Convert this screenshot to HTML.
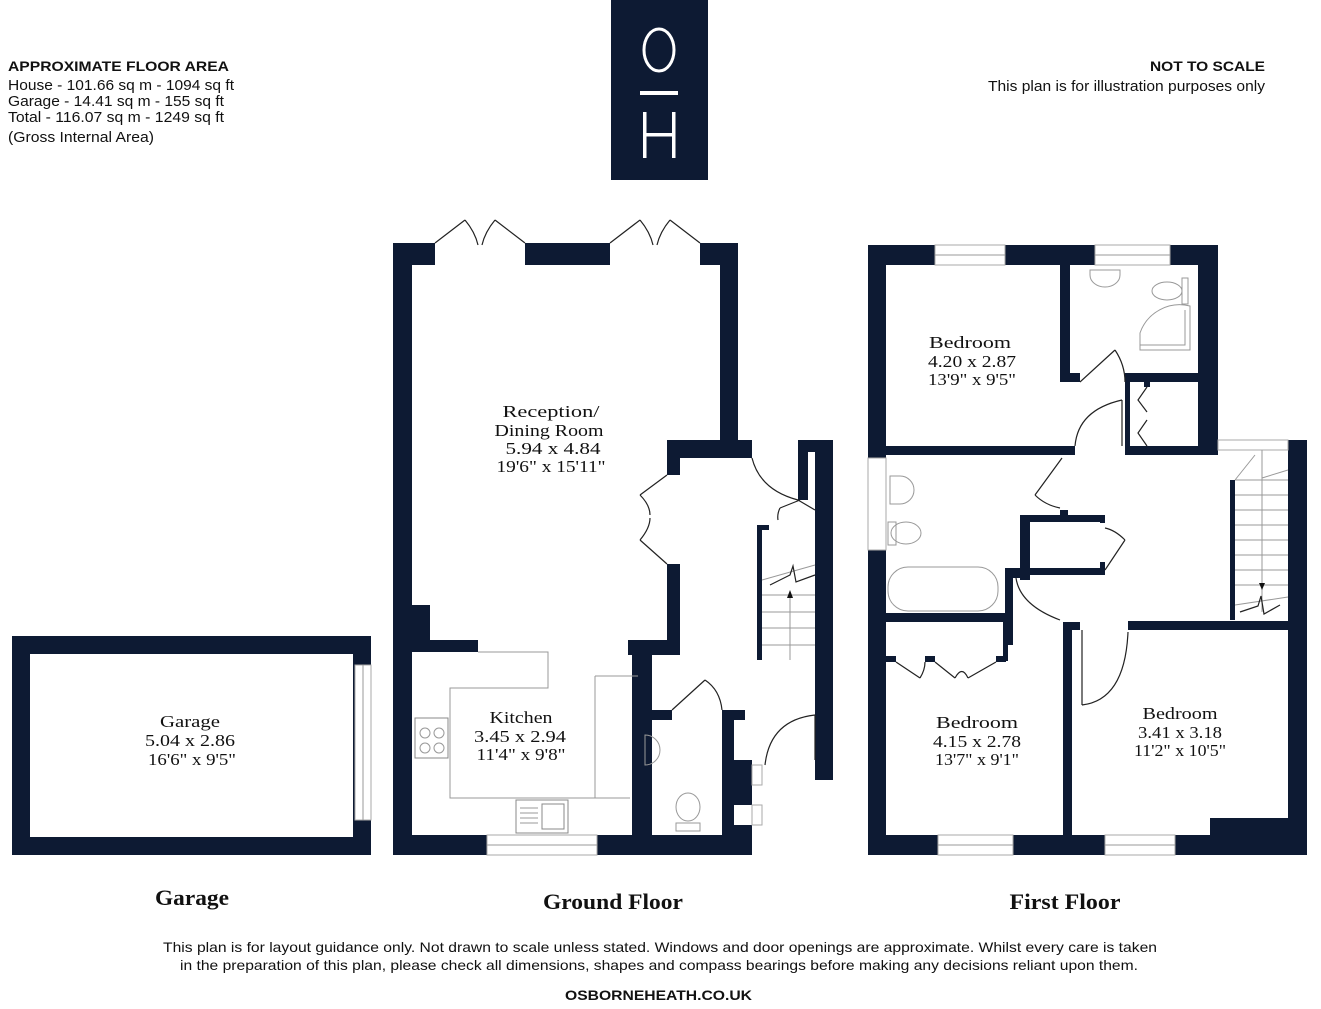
<!DOCTYPE html>
<html><head><meta charset="utf-8"><style>
html,body{margin:0;padding:0;background:#fff;}
svg{display:block;}
.s{font-family:"Liberation Sans",sans-serif;fill:#111;}
.r{font-family:"Liberation Serif",serif;fill:#111;text-anchor:middle;font-size:17px;}
.t{font-family:"Liberation Serif",serif;fill:#111;text-anchor:middle;font-size:22px;font-weight:bold;}
.w{fill:#0d1a33;}
.ln{fill:none;stroke:#222;stroke-width:1.2;}
.th{fill:none;stroke:#999;stroke-width:1;}
.win{fill:#fff;stroke:#aaa;stroke-width:1;}
</style></head><body>
<svg width="1321" height="1009" viewBox="0 0 1321 1009" xmlns="http://www.w3.org/2000/svg">
<!-- header text -->
<text class="s" x="8" y="71" font-size="14" font-weight="bold" textLength="221" lengthAdjust="spacingAndGlyphs">APPROXIMATE FLOOR AREA</text>
<text class="s" x="8" y="90" font-size="15" textLength="226" lengthAdjust="spacingAndGlyphs">House - 101.66 sq m - 1094 sq ft</text>
<text class="s" x="8" y="106" font-size="15" textLength="216" lengthAdjust="spacingAndGlyphs">Garage - 14.41 sq m - 155 sq ft</text>
<text class="s" x="8" y="122" font-size="15" textLength="216" lengthAdjust="spacingAndGlyphs">Total - 116.07 sq m - 1249 sq ft</text>
<text class="s" x="8" y="142" font-size="15" textLength="146" lengthAdjust="spacingAndGlyphs">(Gross Internal Area)</text>
<text class="s" x="1150" y="71" font-size="14" font-weight="bold" textLength="115" lengthAdjust="spacingAndGlyphs">NOT TO SCALE</text>
<text class="s" x="988" y="91" font-size="15" textLength="277" lengthAdjust="spacingAndGlyphs">This plan is for illustration purposes only</text>

<!-- logo -->
<rect class="w" x="611" y="0" width="97" height="180"/>
<ellipse cx="659" cy="50" rx="15" ry="21" fill="none" stroke="#fff" stroke-width="3"/>
<rect x="640" y="91" width="38" height="4" fill="#fff"/>
<rect x="643" y="112" width="3.5" height="46" fill="#fff"/>
<rect x="672" y="112" width="3.5" height="46" fill="#fff"/>
<rect x="643" y="133" width="32" height="3.5" fill="#fff"/>

<!-- GARAGE -->
<path class="w" fill-rule="evenodd" d="M12 636H371V855H12Z M30 654V837H353V654Z"/>
<rect class="win" x="355" y="665" width="16" height="155"/>
<line class="th" x1="363" y1="665" x2="363" y2="820"/>
<text class="r" x="190" y="727" textLength="60" lengthAdjust="spacingAndGlyphs">Garage</text>
<text class="r" x="190" y="746" textLength="90" lengthAdjust="spacingAndGlyphs">5.04 x 2.86</text>
<text class="r" x="192" y="765" textLength="88" lengthAdjust="spacingAndGlyphs">16'6" x 9'5"</text>

<!-- GROUND FLOOR -->
<g class="w">
<rect x="393" y="243" width="19" height="612"/>
<rect x="393" y="243" width="42" height="22"/>
<rect x="525" y="243" width="85" height="22"/>
<rect x="700" y="243" width="38" height="22"/>
<rect x="720" y="243" width="18" height="212"/>
<rect x="667" y="440" width="85" height="18"/>
<rect x="667" y="440" width="13" height="35"/>
<rect x="667" y="564" width="13" height="90"/>
<rect x="628" y="640" width="52" height="15"/>
<rect x="632" y="640" width="20" height="215"/>
<rect x="412" y="605" width="18" height="47"/>
<rect x="412" y="640" width="66" height="12"/>
<rect x="393" y="835" width="94" height="20"/>
<rect x="597" y="835" width="155" height="20"/>
<rect x="632" y="710" width="40" height="10"/>
<rect x="722" y="710" width="23" height="10"/>
<rect x="722" y="710" width="12" height="145"/>
<rect x="722" y="760" width="30" height="45"/>
<rect x="732" y="825" width="20" height="30"/>
<rect x="815" y="440" width="18" height="340"/>
<rect x="798" y="440" width="35" height="12"/>
<rect x="798" y="440" width="10" height="60"/>
<rect x="757" y="525" width="5" height="135"/>
<rect x="757" y="525" width="12" height="5"/>
</g>
<rect class="win" x="487" y="835" width="110" height="20"/>
<line class="th" x1="487" y1="845" x2="597" y2="845"/>
<rect class="win" x="752" y="765" width="10" height="20"/>
<rect class="win" x="752" y="805" width="10" height="20"/>
<!-- french doors -->
<path class="ln" d="M435 243L465 220 M465 220Q475 232 478 245 M525 243L495 220 M495 220Q485 232 482 245"/>
<path class="ln" d="M610 243L640 220 M640 220Q650 232 653 245 M700 243L670 220 M670 220Q660 232 657 245"/>
<path class="ln" d="M667 475L640 495 M640 495Q650 505 650 515 M667 564L640 540 M640 540Q650 528 650 518"/>
<path class="ln" d="M752 458Q760 490 798 500 M800 500L780 508 M780 508Q777 514 778 520 M798 500L815 510"/>
<path class="ln" d="M672 710L705 680 M705 680Q720 690 722 710"/>
<path class="ln" d="M815 715Q770 720 765 765 M815 715V760"/>
<!-- stairs -->
<g class="th"><line x1="762" y1="595" x2="815" y2="595"/><line x1="762" y1="612" x2="815" y2="612"/><line x1="762" y1="628" x2="815" y2="628"/><line x1="762" y1="645" x2="815" y2="645"/><line x1="762" y1="580" x2="815" y2="565"/><line x1="790" y1="595" x2="790" y2="660"/></g>
<path class="ln" d="M770 585L790 575L793 566L796 582L815 575"/>
<path d="M790 590l-3 8h6z" fill="#111"/>
<!-- kitchen counters -->
<path class="th" d="M478 652H548V688H450V798H630 M595 676H638 M595 676V798"/>
<rect x="415" y="718" width="33" height="40" fill="#fff" stroke="#888"/>
<circle cx="425" cy="733" r="5" class="th"/><circle cx="439" cy="733" r="5" class="th"/><circle cx="425" cy="748" r="5" class="th"/><circle cx="439" cy="748" r="5" class="th"/>
<rect x="516" y="800" width="52" height="33" fill="#fff" stroke="#888"/>
<rect x="542" y="804" width="22" height="25" fill="none" stroke="#888"/>
<g class="th"><line x1="520" y1="808" x2="538" y2="808"/><line x1="520" y1="813" x2="538" y2="813"/><line x1="520" y1="818" x2="538" y2="818"/><line x1="520" y1="823" x2="538" y2="823"/></g>
<path class="th" d="M645 735a15 15 0 0 1 0 30z M645 735v30"/>
<ellipse cx="688" cy="807" rx="12" ry="14" class="th"/>
<rect x="676" y="823" width="24" height="8" class="th"/>
<text class="r" x="551" y="417" textLength="97" lengthAdjust="spacingAndGlyphs">Reception/</text>
<text class="r" x="549" y="436" textLength="109" lengthAdjust="spacingAndGlyphs">Dining Room</text>
<text class="r" x="553" y="454" textLength="95" lengthAdjust="spacingAndGlyphs">5.94 x 4.84</text>
<text class="r" x="551" y="472" textLength="109" lengthAdjust="spacingAndGlyphs">19'6" x 15'11"</text>
<text class="r" x="521" y="723" textLength="63" lengthAdjust="spacingAndGlyphs">Kitchen</text>
<text class="r" x="520" y="742" textLength="92" lengthAdjust="spacingAndGlyphs">3.45 x 2.94</text>
<text class="r" x="521" y="760" textLength="89" lengthAdjust="spacingAndGlyphs">11'4" x 9'8"</text>

<!-- FIRST FLOOR -->
<g class="w">
<rect x="868" y="245" width="18" height="610"/>
<rect x="868" y="245" width="67" height="20"/>
<rect x="1005" y="245" width="90" height="20"/>
<rect x="1170" y="245" width="48" height="20"/>
<rect x="1198" y="245" width="20" height="210"/>
<rect x="1288" y="440" width="19" height="415"/>
<rect x="868" y="835" width="70" height="20"/>
<rect x="1013" y="835" width="92" height="20"/>
<rect x="1175" y="835" width="132" height="20"/>
<rect x="1210" y="818" width="97" height="20"/>
<rect x="886" y="446" width="189" height="9"/>
<rect x="1125" y="446" width="93" height="9"/>
<rect x="1060" y="265" width="10" height="117"/>
<rect x="1060" y="373" width="20" height="9"/>
<rect x="1125" y="373" width="73" height="9"/>
<rect x="1125" y="373" width="5" height="82"/>
<rect x="1144" y="380" width="6" height="7"/>
<rect x="1144" y="446" width="6" height="7"/>
<rect x="1020" y="515" width="10" height="65"/>
<rect x="1020" y="515" width="85" height="7"/>
<rect x="1020" y="568" width="85" height="7"/>
<rect x="1060" y="510" width="8" height="8"/>
<rect x="1100" y="515" width="5" height="8"/>
<rect x="1100" y="562" width="5" height="8"/>
<rect x="1005" y="568" width="15" height="10"/>
<rect x="1005" y="568" width="8" height="77"/>
<rect x="886" y="613" width="119" height="9"/>
<rect x="1003" y="615" width="5" height="46"/>
<rect x="886" y="656" width="10" height="6"/>
<rect x="925" y="656" width="10" height="6"/>
<rect x="996" y="656" width="10" height="6"/>
<rect x="1063" y="622" width="9" height="233"/>
<rect x="1063" y="622" width="17" height="8"/>
<rect x="1128" y="621" width="160" height="9"/>
<rect x="1230" y="480" width="5" height="140"/>
</g>
<rect class="win" x="935" y="245" width="70" height="20"/><line class="th" x1="935" y1="255" x2="1005" y2="255"/>
<rect class="win" x="1095" y="245" width="75" height="20"/><line class="th" x1="1095" y1="255" x2="1170" y2="255"/>
<rect class="win" x="1218" y="440" width="70" height="10"/>
<rect class="win" x="868" y="458" width="18" height="92"/>
<rect class="win" x="938" y="835" width="75" height="20"/><line class="th" x1="938" y1="845" x2="1013" y2="845"/>
<rect class="win" x="1105" y="835" width="70" height="20"/><line class="th" x1="1105" y1="845" x2="1175" y2="845"/>
<!-- doors -->
<path class="ln" d="M1080 382L1115 350 M1115 350Q1125 365 1125 382"/>
<path class="ln" d="M1075 446Q1078 410 1122 400 M1122 400V446"/>
<path class="ln" d="M1147 387L1138 400L1147 412 M1147 446L1138 433L1147 420"/>
<path class="ln" d="M1062 458L1035 495 M1035 495Q1045 505 1060 508"/>
<path class="ln" d="M1105 570L1125 540 M1125 540Q1115 530 1105 528"/>
<path class="ln" d="M1016 578Q1020 605 1060 620 M1082 630V705 M1082 705Q1125 700 1128 632"/>
<path class="ln" d="M896 662L920 678 M920 678Q925 670 925 662 M935 662L955 678 M955 678Q962 665 968 678 M968 678L996 662"/>
<!-- stairs FF -->
<g class="th"><line x1="1235" y1="480" x2="1288" y2="480"/><line x1="1235" y1="495" x2="1288" y2="495"/><line x1="1235" y1="510" x2="1288" y2="510"/><line x1="1235" y1="525" x2="1288" y2="525"/><line x1="1235" y1="540" x2="1288" y2="540"/><line x1="1235" y1="555" x2="1288" y2="555"/><line x1="1235" y1="570" x2="1288" y2="570"/><line x1="1235" y1="585" x2="1288" y2="585"/><line x1="1235" y1="605" x2="1288" y2="597"/><line x1="1262" y1="450" x2="1262" y2="612"/><line x1="1235" y1="480" x2="1255" y2="455"/><line x1="1262" y1="478" x2="1288" y2="470"/></g>
<path class="ln" d="M1240 612L1258 606L1261 596L1264 614L1280 605"/>
<path d="M1262 590l-3 -7h6z" fill="#111"/>
<!-- sanitary -->
<path class="th" d="M1090 270h30v5a15 12 0 0 1 -30 0z"/>
<ellipse cx="1167" cy="291" rx="15" ry="9" class="th"/><rect x="1182" y="278" width="6" height="26" class="th"/>
<path class="th" d="M1140 350V333A42 42 0 0 1 1190 306V350Z M1140 345H1185V310"/>
<path class="th" d="M890 476h10a14 14 0 0 1 0 28h-10z"/>
<ellipse cx="906" cy="533" rx="15" ry="11" class="th"/><rect x="888" y="522" width="8" height="23" class="th"/>
<rect x="888" y="567" width="110" height="44" rx="20" class="th"/>
<text class="r" x="970" y="348" textLength="82" lengthAdjust="spacingAndGlyphs">Bedroom</text>
<text class="r" x="972" y="367" textLength="88" lengthAdjust="spacingAndGlyphs">4.20 x 2.87</text>
<text class="r" x="972" y="385" textLength="88" lengthAdjust="spacingAndGlyphs">13'9" x 9'5"</text>
<text class="r" x="977" y="728" textLength="82" lengthAdjust="spacingAndGlyphs">Bedroom</text>
<text class="r" x="977" y="747" textLength="88" lengthAdjust="spacingAndGlyphs">4.15 x 2.78</text>
<text class="r" x="977" y="765" textLength="84" lengthAdjust="spacingAndGlyphs">13'7" x 9'1"</text>
<text class="r" x="1180" y="719" textLength="75" lengthAdjust="spacingAndGlyphs">Bedroom</text>
<text class="r" x="1180" y="738" textLength="84" lengthAdjust="spacingAndGlyphs">3.41 x 3.18</text>
<text class="r" x="1180" y="756" textLength="92" lengthAdjust="spacingAndGlyphs">11'2" x 10'5"</text>

<!-- titles -->
<text class="t" x="192" y="905" textLength="74" lengthAdjust="spacingAndGlyphs">Garage</text>
<text class="t" x="613" y="909" textLength="140" lengthAdjust="spacingAndGlyphs">Ground Floor</text>
<text class="t" x="1065" y="909" textLength="111" lengthAdjust="spacingAndGlyphs">First Floor</text>
<text class="s" x="163" y="952" font-size="14" textLength="994" lengthAdjust="spacingAndGlyphs">This plan is for layout guidance only. Not drawn to scale unless stated. Windows and door openings are approximate. Whilst every care is taken</text>
<text class="s" x="180" y="970" font-size="14" textLength="958" lengthAdjust="spacingAndGlyphs">in the preparation of this plan, please check all dimensions, shapes and compass bearings before making any decisions reliant upon them.</text>
<text class="s" x="565" y="1000" font-size="14" font-weight="bold" textLength="187" lengthAdjust="spacingAndGlyphs">OSBORNEHEATH.CO.UK</text>
</svg>
</body></html>
